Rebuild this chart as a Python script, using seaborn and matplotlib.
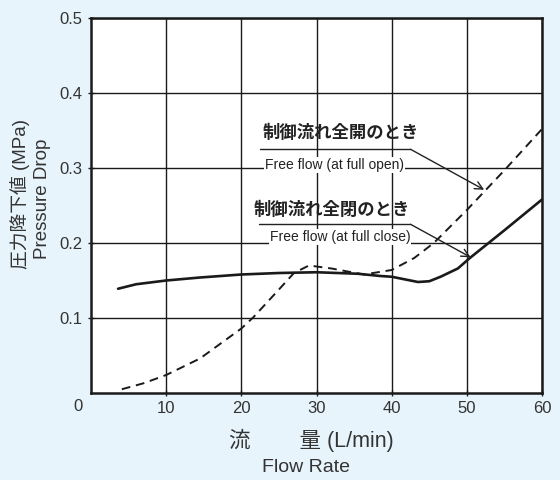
import matplotlib
matplotlib.use("Agg")
import matplotlib.pyplot as plt
import seaborn as sns
import pandas as pd

# Data
close_x = [3.6, 6, 10, 14.5, 20, 25, 30, 35.5, 38.5, 40, 42, 43.5, 45, 46.5, 48.8, 50.4, 55, 60]
close_y = [0.139, 0.145, 0.150, 0.154, 0.158, 0.160, 0.161, 0.159, 0.156, 0.155, 0.151, 0.148, 0.149, 0.155, 0.166, 0.180, 0.217, 0.258]
open_x = [4.1, 7, 10, 14.5, 20, 21.6, 25, 27, 29, 32, 36.3, 40, 43, 45.6, 50, 55, 60]
open_y = [0.005, 0.013, 0.024, 0.046, 0.086, 0.101, 0.138, 0.160, 0.170, 0.166, 0.158, 0.164, 0.180, 0.200, 0.244, 0.297, 0.352]
x_ticks = [10, 20, 30, 40, 50, 60]
y_ticks = [0.1, 0.2, 0.3, 0.4, 0.5]
y_tick_labels = ["0.1", "0.2", "0.3", "0.4", "0.5"]

sns.set_theme(style="white")
plt.rcParams['font.family'] = ['Liberation Sans', 'Noto Sans CJK JP', 'DejaVu Sans']

bg = "#e8f4fc"
fig = plt.figure(figsize=(5.6, 4.8), dpi=100, facecolor=bg)
ax = fig.add_axes([0.1625, 0.18125, 0.8054, 0.78125])
ax.set_facecolor("white")

df_close = pd.DataFrame({"x": close_x, "y": close_y})
df_open = pd.DataFrame({"x": open_x, "y": open_y})
sns.lineplot(data=df_close, x="x", y="y", ax=ax, color="#1a1a1a", lw=1.9, sort=False)
sns.lineplot(data=df_open, x="x", y="y", ax=ax, color="#1a1a1a", lw=1.4, sort=False,
             dashes=False, linestyle=(0, (4.5, 3)))

ax.set_xlim(0, 60)
ax.set_ylim(0, 0.5)
ax.set_xticks(x_ticks)
ax.set_yticks(y_ticks)
ax.set_yticklabels(y_tick_labels)
ax.grid(True, color="#1a1a1a", lw=1.0)
ax.set_axisbelow(True)
for s in ax.spines.values():
    s.set_color("#1a1a1a")
    s.set_linewidth(1.8)
ax.tick_params(axis="both", colors="#1a1a1a", labelcolor="#333333", labelsize=12,
               length=4, width=1, direction="inout", bottom=True, left=True, pad=4)
ax.set_xlabel("")
ax.set_ylabel("")

# Origin label
ax.text(-0.028, -0.035, "0", transform=ax.transAxes, ha="center", va="center",
        fontsize=12, color="#333333")

# Axis titles
fig.text(0.556, 0.083, "流　　 量 (L/min)", ha="center", va="center", fontsize=15.5, color="#333333")
fig.text(0.547, 0.027, "Flow Rate", ha="center", va="center", fontsize=14, color="#333333")
fig.text(0.036, 0.595, "圧力降下値 (MPa)", ha="center", va="center", rotation=90, fontsize=13.5, color="#333333")
fig.text(0.076, 0.585, "Pressure Drop", ha="center", va="center", rotation=90, fontsize=13.5, color="#333333")

# Annotations
jp_kw = dict(ha="center", va="center", fontsize=12.5, fontweight="bold", color="#222222",
             family=["Noto Sans CJK JP", "DejaVu Sans"])
en_kw = dict(ha="center", va="center", fontsize=10, color="#222222",
             family=["Liberation Sans Narrow", "Liberation Sans", "DejaVu Sans"],
             bbox=dict(facecolor="white", edgecolor="none", pad=0.5))

ax.text(33.2, 0.347, "制御流れ全開のとき", **jp_kw)
ax.text(32.4, 0.304, "Free flow (at full open)", **en_kw)
ax.plot([22.5, 42.5], [0.325, 0.325], color="#222222", lw=1.0)
ax.annotate("", xy=(52.3, 0.271), xytext=(42.5, 0.325),
            arrowprops=dict(arrowstyle="->", color="#222222", lw=1.0, shrinkA=0, shrinkB=0,
                            mutation_scale=14))

ax.text(32.1, 0.244, "制御流れ全閉のとき", **jp_kw)
ax.text(33.1, 0.208, "Free flow (at full close)", **en_kw)
ax.plot([22.3, 42.5], [0.225, 0.225], color="#222222", lw=1.0)
ax.annotate("", xy=(50.5, 0.181), xytext=(42.5, 0.225),
            arrowprops=dict(arrowstyle="->", color="#222222", lw=1.0, shrinkA=0, shrinkB=0,
                            mutation_scale=14))

fig.savefig("out.png", dpi=100, facecolor=bg)
